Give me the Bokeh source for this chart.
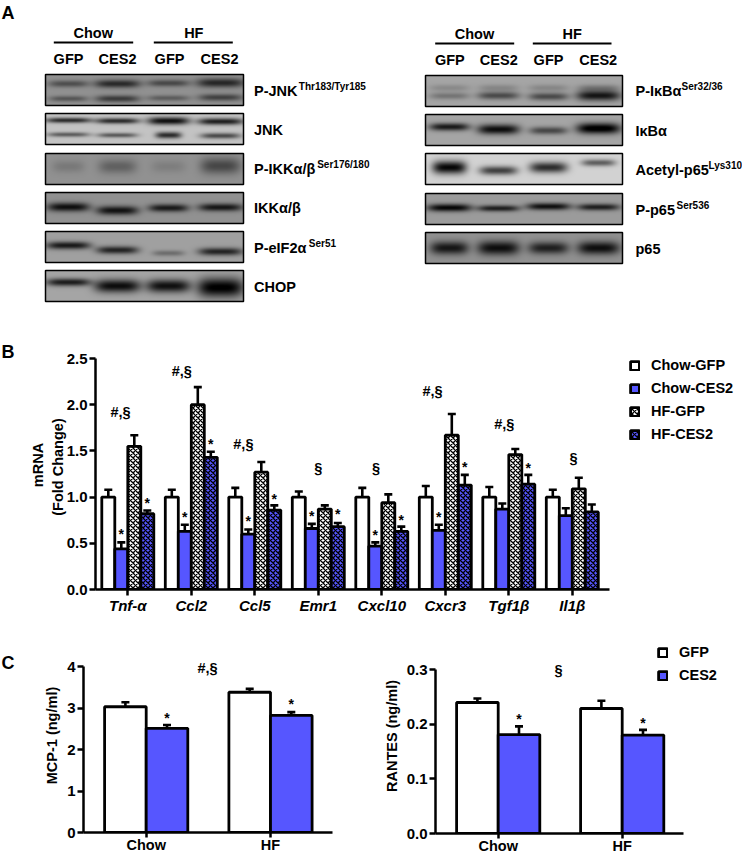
import numpy as np
from bokeh.plotting import figure
from bokeh.layouts import column, row
from bokeh.models import (Range1d, FixedTicker, PrintfTickFormatter, Whisker, TeeHead,
                          ColumnDataSource, Legend, LegendItem, LinearColorMapper)
from bokeh.core.properties import value
from bokeh.palettes import Greys256
from bokeh.embed import file_html
from bokeh.resources import INLINE

FONT = "Liberation Sans"
BLUE = "#5656FF"

# ---------- panel B data ----------
genes = ["Tnf-α", "Ccl2", "Ccl5", "Emr1", "Cxcl10", "Cxcr3", "Tgf1β", "Il1β"]
chow_gfp = [1.0, 1.0, 1.0, 1.0, 1.0, 1.0, 1.0, 1.0]
chow_ces2 = [0.44, 0.63, 0.60, 0.66, 0.47, 0.64, 0.87, 0.80]
hf_gfp = [1.55, 2.0, 1.27, 0.87, 0.94, 1.67, 1.46, 1.09]
hf_ces2 = [0.82, 1.43, 0.86, 0.68, 0.63, 1.13, 1.14, 0.84]
chow_gfp_err = [1.08, 1.08, 1.10, 1.06, 1.10, 1.12, 1.11, 1.08]
chow_ces2_err = [0.51, 0.70, 0.65, 0.71, 0.51, 0.70, 0.93, 0.88]
hf_gfp_err = [1.67, 2.19, 1.38, 0.91, 1.03, 1.90, 1.52, 1.21]
hf_ces2_err = [0.855, 1.49, 0.91, 0.72, 0.68, 1.24, 1.24, 0.92]
star_ces2_y = [0.60, 0.78, 0.74, 0.80, 0.59, 0.78, None, None]
star_hf_ces2_y = [0.935, 1.57, 0.98, 0.82, 0.75, 1.33, 1.32, None]
sig_labels = ["#,§", "#,§", "#,§", "§", "§", "#,§", "#,§", "§"]
sig_x = [-0.115, -0.15, -0.18, 0.0, -0.09, -0.20, -0.07, 0.02]
sig_y = [1.92, 2.36, 1.57, 1.31, 1.31, 2.15, 1.79, 1.42]

# ---------- panel C data ----------
diet = ["Chow", "HF"]
mcp1_gfp = [3.03, 3.38]
mcp1_ces2 = [2.51, 2.82]
mcp1_gfp_err = [3.14, 3.46]
mcp1_ces2_err = [2.59, 2.90]
mcp1_star_y = [2.76, 3.10]
rantes_gfp = [0.2396, 0.2287]
rantes_ces2 = [0.181, 0.180]
rantes_gfp_err = [0.247, 0.2427]
rantes_ces2_err = [0.196, 0.1896]
rantes_star_y = [0.21, 0.203]

# ---------- panel A blots: (label, superscript, gray background, bands) ----------
# band = (lane, relative height in the strip, darkness, half width, half height)
left_blots = [
    ("P-JNK", "Thr183/Tyr185", 145, [(0, .30, .50, 20, 3.4), (1, .30, .78, 23, 4), (2, .28, .55, 21, 3.4), (3, .27, .80, 24, 4.5),
                                      (0, .78, .45, 19, 2.8), (1, .78, .65, 22, 3.4), (2, .76, .40, 21, 2.8), (3, .74, .60, 22, 3.4)]),
    ("JNK", "", 195, [(0, .22, .85, 23, 2.6), (1, .24, .85, 22, 2.8), (2, .24, 1.0, 21, 3.8), (3, .26, .92, 23, 3.3),
                      (0, .68, .58, 21, 2.3), (1, .70, .60, 20, 2.3), (2, .70, .85, 13, 3.2), (3, .72, .68, 20, 2.8)]),
    ("P-IKKα/β", "Ser176/180", 145, [(0, .42, .18, 16, 6), (1, .42, .36, 19, 7), (2, .42, .14, 17, 6), (3, .40, .55, 20, 8)]),
    ("IKKα/β", "", 145, [(0, .47, .98, 21, 4.4), (1, .58, .95, 21, 4.4), (2, .50, .90, 20, 3.8), (3, .48, .92, 22, 3.8)]),
    ("P-eIF2α", "Ser51", 160, [(0, .45, .92, 22, 3.8), (1, .60, .85, 21, 3.8), (2, .70, .35, 16, 2.8), (3, .65, .85, 22, 3.8)]),
    ("CHOP", "", 165, [(0, .38, .90, 22, 3.8), (1, .50, 1.0, 23, 6.5), (2, .50, .98, 22, 6.5), (3, .55, 1.1, 23, 9.5)]),
]
right_blots = [
    ("P-IκBα", "Ser32/36", 165, [(0, .40, .18, 20, 3.4), (1, .40, .20, 20, 3.4), (2, .40, .20, 20, 3.4), (3, .40, .28, 21, 3.4),
                                  (0, .66, .32, 20, 3.4), (1, .65, .60, 21, 3.8), (2, .68, .60, 20, 3.8), (3, .65, .95, 22, 5)]),
    ("IκBα", "", 165, [(0, .40, .92, 20, 3.8), (1, .48, 1.0, 21, 5), (2, .52, .62, 19, 3.8), (3, .45, 1.15, 22, 5.4)]),
    ("Acetyl-p65", "Lys310", 210, [(0, .45, 1.05, 17, 6.5), (1, .55, .75, 19, 4.4), (2, .45, .85, 19, 5.4), (3, .30, .60, 17, 3.4)]),
    ("P-p65", "Ser536", 155, [(0, .46, 1.05, 22, 3.8), (1, .48, .88, 21, 3.1), (2, .42, .98, 22, 3.5), (3, .44, .88, 21, 3.3)]),
    ("p65", "", 145, [(0, .50, .92, 19, 6.5), (1, .50, .98, 21, 7), (2, .50, .85, 20, 6), (3, .50, .98, 21, 6.5)]),
]
left_lanes = [68, 117, 168, 220]
right_lanes = [449, 498, 548, 598]
left_tops = [74, 113, 153, 192, 231, 270]
right_tops = [75, 114, 153, 193, 232]
left_label_y = [90.7, 129, 168, 207, 247, 286]
right_label_y = [90.7, 130.7, 169, 209, 248]
left_sup_x = [298.3, 0, 316.7, 0, 308.3, 0]
right_sup_x = [681, 0, 708, 676, 0]
TOP_H = 335
LETTER_W = 20


def strip_image(bg, bands, lanes, x0, w, h):
    xs = np.arange(w) + x0 + .5
    ys = np.arange(h) + .5
    X, Y = np.meshgrid(xs, ys)
    dark = np.zeros((h, w))
    for lane, rel, d, hw, hh in bands:
        dark += d * np.exp(-((X - lanes[lane]) / hw) ** 4) * np.exp(-((Y - rel * h) / hh) ** 2)
    dark = np.clip(dark, 0, 1.1)
    img = bg * (1 - dark * .93)
    return np.clip(img, 0, 255)[::-1]


def label(p, x, y, t, size=14.5, align="center", baseline="middle", style="bold", angle=0):
    p.text(x=[x], y=[y], text=[t], text_font=value(FONT), text_font_style=style,
           text_font_size=value(f"{size}px"), text_align=align, text_baseline=baseline,
           text_color="black", angle=angle)


def letter_strip(t, h, y_from_top):
    s = figure(width=LETTER_W, height=h, x_range=Range1d(0, LETTER_W), y_range=Range1d(0, h),
               x_axis_location=None, y_axis_location=None, toolbar_location=None,
               output_backend="svg", min_border=0, outline_line_color=None)
    s.grid.visible = False
    label(s, 1, h - y_from_top, t, size=18, align="left")
    return column(s, spacing=0)


# ---------- panel A ----------
top = figure(width=742, height=TOP_H, x_range=Range1d(0, 742), y_range=Range1d(0, TOP_H),
             x_axis_location=None, y_axis_location=None, toolbar_location=None,
             output_backend="svg", min_border=0, outline_line_color=None)
top.grid.visible = False
gray_map = LinearColorMapper(palette=Greys256, low=0, high=255)


def blot_column(blots, lanes, tops, x0, x1, lab_x, lab_y, sup_x, h=31):
    w = x1 - x0
    for (name, sup, bg, bands), t, ly, sx in zip(blots, tops, lab_y, sup_x):
        img = strip_image(bg, bands, lanes, x0, w, h)
        top.image(image=[img], x=x0, y=TOP_H - t - h, dw=w, dh=h, color_mapper=gray_map)
        top.quad(left=[x0], right=[x1], bottom=[TOP_H - t - h], top=[TOP_H - t], fill_color=None,
                 line_color="black", line_width=1.5)
        label(top, lab_x, TOP_H - ly, name, align="left")
        if sup:
            label(top, sx, TOP_H - ly + 4.5, sup, size=10, align="left")


blot_column(left_blots, left_lanes, left_tops, 45, 243, 253.5, left_label_y, left_sup_x)
blot_column(right_blots, right_lanes, right_tops, 425, 622, 635, right_label_y, right_sup_x)

for cx, hy, y_line, lx, gy in [((92.7, 193.3), 32.7, 42, ((53.3, 132.7), (153.3, 232.3)), 58.3),
                               ((474, 571.7), 33.7, 43, ((434.7, 513.7), (532.3, 611)), 59)]:
    for c, name, (a, b) in zip(cx, diet, lx):
        label(top, c, TOP_H - hy, name)
        top.line([a, b], [TOP_H - y_line] * 2, line_color="black", line_width=2.2)
for xs, gy in [((68, 117, 169, 219), 58.3), ((449.3, 498.3, 548, 597.7), 59)]:
    for x, name in zip(xs, ["GFP", "CES2", "GFP", "CES2"]):
        label(top, x, TOP_H - gy, name)
label(top, 1, TOP_H - 12.5, "A", size=18, align="left")


def style_axes(p, size="15px"):
    p.grid.visible = False
    p.outline_line_color = None
    for ax in (p.xaxis[0], p.yaxis[0]):
        ax.axis_line_width = 2.5
        ax.axis_line_color = "black"
        ax.major_tick_line_width = 2.5
        ax.major_tick_line_color = "black"
        ax.major_tick_in = 0
        ax.major_tick_out = 6
        ax.minor_tick_line_color = None
        ax.major_label_text_font = FONT
        ax.major_label_text_font_style = "bold"
        ax.major_label_text_font_size = size
        ax.major_label_text_color = "black"
        ax.axis_label_text_font = FONT
        ax.axis_label_text_font_style = "bold"
        ax.axis_label_text_font_size = "14.5px"
        ax.axis_label_text_color = "black"


def bars(p, xs, vals, errs, width, fill, hatch=None):
    kw = {}
    if hatch:
        kw = dict(hatch_pattern="diagonal_cross", hatch_color="black", hatch_scale=5, hatch_weight=1.3, hatch_alpha=1)
    r = p.vbar(x=xs, top=vals, bottom=0, width=width, fill_color=fill, line_color="black", line_width=2.8, **kw)
    src = ColumnDataSource(dict(x=xs, upper=errs, lower=vals))
    p.add_layout(Whisker(base="x", upper="upper", lower="lower", source=src, line_width=2.6, line_color="black",
                         upper_head=TeeHead(size=8, line_width=2.6, line_color="black"), lower_head=None))
    return r


def legend(p, items, loc, spacing):
    lg = Legend(items=[LegendItem(label=n, renderers=[r]) for n, r in items], location=loc,
                border_line_color=None, background_fill_alpha=0, padding=0, margin=0,
                glyph_width=11, glyph_height=11, label_standoff=11, spacing=spacing, label_height=14,
                label_text_font=FONT, label_text_font_style="bold", label_text_font_size="14.5px",
                label_text_color="black")
    p.add_layout(lg, "center")


# ---------- panel B ----------
B_PX = 63.5
B_W = 13 / B_PX
mid = figure(frame_width=647, frame_height=249, min_border_left=95 - LETTER_W, min_border_right=0, min_border_top=5,
             min_border_bottom=41, x_range=Range1d(-(127.3 - 95) / B_PX, (742 - 127.3) / B_PX),
             y_range=Range1d(0, 249 / 92.4), toolbar_location=None, output_backend="svg")
style_axes(mid)
mid.xaxis.bounds = (-(127.3 - 95) / B_PX, (609 - 127.3) / B_PX)
mid.yaxis.bounds = (0, 2.5)
mid.xaxis.ticker = FixedTicker(ticks=list(range(len(genes))))
mid.xaxis.major_label_overrides = {i: g for i, g in enumerate(genes)}
mid.xaxis.major_label_text_font_style = "bold italic"
mid.xaxis.major_label_standoff = 1
mid.yaxis.ticker = FixedTicker(ticks=[0, .5, 1, 1.5, 2, 2.5])
mid.yaxis.formatter = PrintfTickFormatter(format="%.1f")
mid.yaxis.major_label_standoff = 2
mid.yaxis.axis_label = "mRNA\n(Fold  Change)"
mid.yaxis.axis_label_standoff = -2

idx = np.arange(len(genes))
offs = [-1.5 * B_W, -.5 * B_W, .5 * B_W, 1.5 * B_W]
r1 = bars(mid, idx + offs[0], chow_gfp, chow_gfp_err, B_W, "white")
r2 = bars(mid, idx + offs[1], chow_ces2, chow_ces2_err, B_W, BLUE)
r3 = bars(mid, idx + offs[2], hf_gfp, hf_gfp_err, B_W, "white", True)
r4 = bars(mid, idx + offs[3], hf_ces2, hf_ces2_err, B_W, BLUE, True)
for i, y in enumerate(star_ces2_y):
    if y is not None:
        label(mid, i + offs[1], y, "*", size=14)
for i, y in enumerate(star_hf_ces2_y):
    if y is not None:
        label(mid, i + offs[3], y, "*", size=14)
for i, (t, dx, y) in enumerate(zip(sig_labels, sig_x, sig_y)):
    label(mid, i + dx, y, t, size=14.5)
legend(mid, [("Chow-GFP", r1), ("Chow-CES2", r2), ("HF-GFP", r3), ("HF-CES2", r4)], (534, 147), 7)


# ---------- panel C ----------
def panel_c(fig_left, fig_w, axis_x, end_x, tick0, tick1, bottom_py, top_py, ymax, ticks, fmt, ytitle, gfp, ces2, gfp_e, ces2_e, star_y):
    px = tick1 - tick0
    frame_w = int(fig_left + fig_w - axis_x)
    sc = (bottom_py - top_py) / ymax
    fh = bottom_py - 638
    p = figure(frame_width=frame_w, frame_height=fh, min_border_left=axis_x - fig_left, min_border_right=0,
               min_border_top=8, min_border_bottom=853 - bottom_py,
               x_range=Range1d(-(tick0 - axis_x) / px, (fig_left + fig_w - tick0) / px),
               y_range=Range1d(0, fh / sc), toolbar_location=None, output_backend="svg")
    style_axes(p)
    p.xaxis.bounds = (-(tick0 - axis_x) / px, (end_x - tick0) / px)
    p.yaxis.bounds = (0, ymax)
    p.xaxis.ticker = FixedTicker(ticks=[0, 1])
    p.xaxis.major_label_overrides = {i: d for i, d in enumerate(diet)}
    p.xaxis.major_tick_out = 5
    p.xaxis.major_label_standoff = -1
    p.xaxis.major_label_text_font_size = "14.5px"
    p.yaxis.ticker = FixedTicker(ticks=ticks)
    p.yaxis.formatter = PrintfTickFormatter(format=fmt)
    p.yaxis.major_label_standoff = 2
    p.yaxis.axis_label = ytitle
    p.yaxis.axis_label_standoff = 4
    w = 41.6 / px
    x = np.arange(2)
    a = bars(p, x - w / 2, gfp, gfp_e, w, "white")
    b = bars(p, x + w / 2, ces2, ces2_e, w, BLUE)
    for i, y in enumerate(star_y):
        label(p, i + w / 2, y, "*", size=14)
    return p, a, b, px, sc


c1, _, _, px1, sc1 = panel_c(LETTER_W, 351, 83, 331.7, 145.7, 270, 832, 666, 4, [0, 1, 2, 3, 4], "%d", "MCP-1 (ng/ml)",
                             mcp1_gfp, mcp1_ces2, mcp1_gfp_err, mcp1_ces2_err, mcp1_star_y)
label(c1, (207 - 145.7) / px1, (832 - 667.7) / sc1, "#,§")

c2, a2, b2, px2, sc2 = panel_c(371, 371, 435, 683.3, 497.7, 621.7, 833, 669, .3, [0, .1, .2, .3], "%.1f", "RANTES (ng/ml)",
                               rantes_gfp, rantes_ces2, rantes_gfp_err, rantes_ces2_err, rantes_star_y)
label(c2, (558 - 497.7) / px2, (833 - 669) / sc2, "§")
legend(c2, [("GFP", a2), ("CES2", b2)], (222, 150), 7)

root = column(row(top),
              row(letter_strip("B", 295, 16.5), row(mid), spacing=0),
              row(letter_strip("C", 223, 32.5), row(c1, c2, spacing=0), spacing=0),
              spacing=0,
              styles={"position": "absolute", "left": "0px", "top": "0px"})
open("out.html", "w").write(file_html(root, INLINE))
